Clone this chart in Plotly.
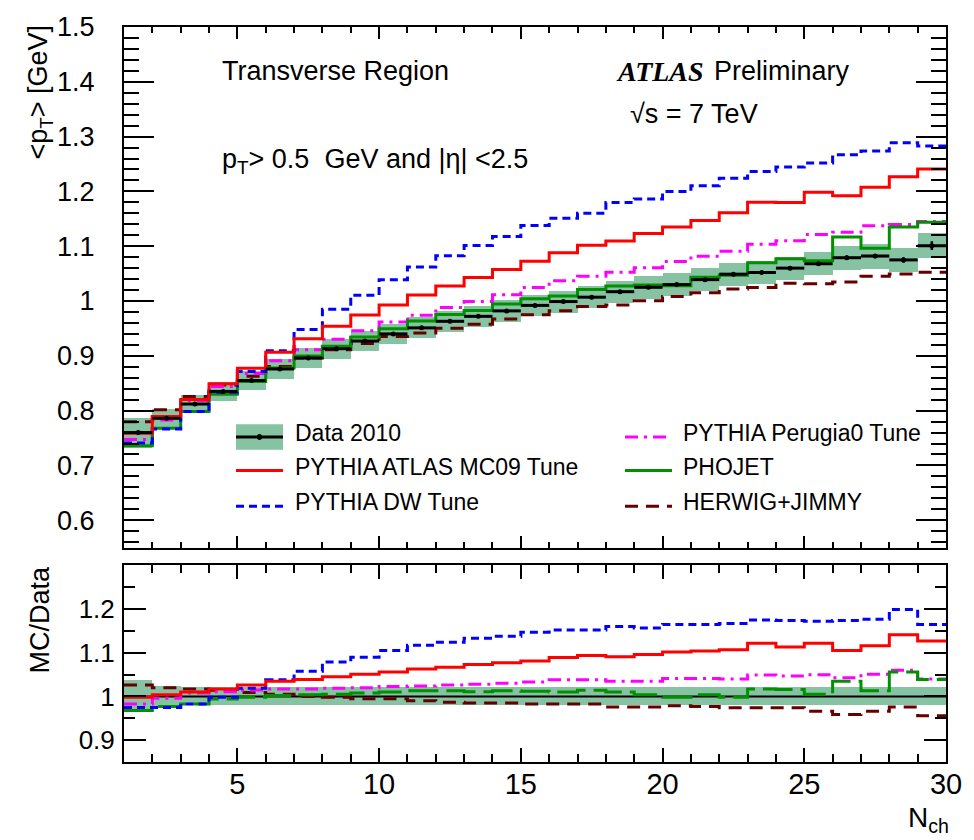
import plotly.graph_objects as go

# ---------------- data ----------------
edges = list(range(1, 31))          # N_ch bin edges 1..30 (29 bins)

data_2010 = [0.760, 0.786, 0.812, 0.835, 0.855, 0.876, 0.896, 0.913, 0.927, 0.940,
             0.951, 0.963, 0.972, 0.982, 0.992, 0.999, 1.007, 1.017, 1.025, 1.030,
             1.039, 1.049, 1.052, 1.060, 1.068, 1.079, 1.082, 1.075, 1.101]
data_stat = [0.001, 0.001, 0.001, 0.001, 0.001, 0.001, 0.001, 0.001, 0.001, 0.001,
             0.001, 0.0015, 0.0015, 0.0015, 0.0015, 0.002, 0.002, 0.002, 0.002, 0.0025,
             0.0025, 0.003, 0.003, 0.003, 0.0035, 0.004, 0.004, 0.005, 0.008]
band_rel = [0.036, 0.022, 0.020, 0.020, 0.020, 0.020, 0.020, 0.020, 0.020, 0.020,
            0.020, 0.020, 0.020, 0.020, 0.020, 0.020, 0.020, 0.020, 0.020, 0.020,
            0.020, 0.020, 0.020, 0.020, 0.020, 0.020, 0.021, 0.021, 0.021]

# MC / Data ratios
ratio_mc09 = [0.998, 1.004, 1.010, 1.017, 1.026, 1.035, 1.039, 1.045, 1.051, 1.056,
              1.063, 1.067, 1.073, 1.077, 1.081, 1.089, 1.094, 1.091, 1.096, 1.102,
              1.104, 1.107, 1.122, 1.113, 1.122, 1.105, 1.116, 1.141, 1.127]
ratio_dw = [0.975, 0.975, 0.983, 0.998, 1.019, 1.038, 1.058, 1.079, 1.090, 1.105,
            1.117, 1.124, 1.133, 1.138, 1.147, 1.152, 1.152, 1.160, 1.157, 1.165,
            1.165, 1.167, 1.175, 1.174, 1.172, 1.174, 1.177, 1.199, 1.165]
ratio_perugia0 = [0.983, 0.996, 1.008, 1.011, 1.015, 1.017, 1.017, 1.019, 1.020, 1.023,
                  1.024, 1.026, 1.028, 1.030, 1.033, 1.038, 1.038, 1.035, 1.035, 1.041,
                  1.041, 1.040, 1.049, 1.047, 1.050, 1.043, 1.051, 1.060, 1.040]
ratio_phojet = [0.968, 0.977, 0.983, 0.994, 0.998, 1.002, 1.004, 1.005, 1.008, 1.010,
                1.013, 1.013, 1.011, 1.013, 1.012, 1.010, 1.014, 1.010, 1.004, 0.998,
                1.004, 0.998, 1.017, 1.016, 1.005, 1.035, 1.013, 1.056, 1.039]
ratio_herwig = [1.026, 1.020, 1.017, 1.014, 1.009, 1.005, 1.000, 0.998, 0.995, 0.995,
                0.990, 0.987, 0.985, 0.985, 0.983, 0.983, 0.983, 0.976, 0.976, 0.979,
                0.977, 0.974, 0.974, 0.974, 0.966, 0.959, 0.966, 0.976, 0.956]

legend_col1 = ["Data 2010", "PYTHIA ATLAS MC09 Tune", "PYTHIA DW Tune"]
legend_col2 = ["PYTHIA Perugia0 Tune", "PHOJET", "HERWIG+JIMMY"]

# ---------------- styling ----------------
BAND = "#85C3A3"
C_MC09, C_DW, C_P0, C_PHO, C_HW = "#FF0000", "#0000FF", "#FF00FF", "#009000", "#660000"
D_DW, D_P0, D_HW, D_PHO_R = "8px,5px", "13px,6px,3px,6px", "13px,8px", "30px,8px"
SANS = "Liberation Sans, Arial, Helvetica, sans-serif"
NARROW = "Liberation Sans Narrow, Arial Narrow, Liberation Sans, sans-serif"

W, H = 974, 840
L, R, T, B = 124, 28, 18, 78
PW, PH = W - L - R, H - T - B


def px(x):
    return (x - L) / PW


def py(y):
    return (H - B - y) / PH


centers = [(edges[i] + edges[i + 1]) / 2 for i in range(len(data_2010))]
step_x = edges


def step_y(vals):
    return list(vals) + [vals[-1]]


fig = go.Figure()

# ---- top panel ----
band_abs = [d * e for d, e in zip(data_2010, band_rel)]
fig.add_trace(go.Bar(x=centers, y=[2 * b for b in band_abs],
                     base=[d - b for d, b in zip(data_2010, band_abs)],
                     width=1, marker=dict(color=BAND, line=dict(width=0)),
                     xaxis="x", yaxis="y", hoverinfo="skip"))

mc_defs = [
    (ratio_herwig, C_HW, D_HW, D_HW),
    (ratio_perugia0, C_P0, D_P0, D_P0),
    (ratio_phojet, C_PHO, "solid", D_PHO_R),
    (ratio_dw, C_DW, D_DW, D_DW),
    (ratio_mc09, C_MC09, "solid", "solid"),
]
for ratio, col, dtop, dbot in mc_defs:
    mc = [d * r for d, r in zip(data_2010, ratio)]
    fig.add_trace(go.Scatter(x=step_x, y=step_y(mc), mode="lines", line_shape="hv",
                             line=dict(color=col, width=3, dash=dtop),
                             xaxis="x", yaxis="y"))

fig.add_trace(go.Scatter(x=centers, y=data_2010, mode="markers",
                         marker=dict(size=5, color="black"),
                         error_x=dict(type="constant", value=0.5, thickness=3, width=0, color="black"),
                         error_y=dict(type="data", array=data_stat, thickness=2.5, width=0, color="black"),
                         xaxis="x", yaxis="y"))

# ---- ratio panel ----
fig.add_trace(go.Bar(x=centers, y=[2 * e for e in band_rel],
                     base=[1 - e for e in band_rel],
                     width=1, marker=dict(color=BAND, line=dict(width=0)),
                     xaxis="x2", yaxis="y2", hoverinfo="skip"))
fig.add_trace(go.Scatter(x=[edges[0], edges[-1]], y=[1, 1], mode="lines",
                         line=dict(color="black", width=2), xaxis="x2", yaxis="y2"))
for ratio, col, dtop, dbot in mc_defs:
    fig.add_trace(go.Scatter(x=step_x, y=step_y(ratio), mode="lines", line_shape="hv",
                             line=dict(color=col, width=3, dash=dbot),
                             xaxis="x2", yaxis="y2"))

axis_common = dict(showline=True, linewidth=2, linecolor="black", mirror="allticks",
                   ticks="inside", tickcolor="black", tickwidth=1.5,
                   showgrid=False, zeroline=False)

fig.update_layout(
    width=W, height=H,
    margin=dict(l=L, r=R, t=T, b=B, pad=0),
    paper_bgcolor="white", plot_bgcolor="white",
    showlegend=False, barmode="overlay", bargap=0,
    font=dict(family=SANS, color="black"),
    xaxis=dict(domain=[0, 1], range=[edges[0], edges[-1]], anchor="y",
               showticklabels=False, dtick=5, tick0=0, ticklen=12,
               minor=dict(ticks="inside", dtick=1, tick0=0, ticklen=6, tickcolor="black", tickwidth=1.5),
               **axis_common),
    yaxis=dict(domain=[py(545), 1], range=[0.55, 1.5], anchor="x",
               dtick=0.1, tick0=0, ticklen=30,
               tickfont=dict(family=SANS, size=27), ticklabelstandoff=22,
               minor=dict(ticks="inside", dtick=0.02, tick0=0, ticklen=15, tickcolor="black", tickwidth=1.5),
               **axis_common),
    xaxis2=dict(domain=[0, 1], range=[edges[0], edges[-1]], anchor="y2",
                dtick=5, tick0=0, ticklen=14,
                tickfont=dict(family=NARROW, size=29), ticklabelstandoff=-5,
                minor=dict(ticks="inside", dtick=1, tick0=0, ticklen=8, tickcolor="black", tickwidth=1.5),
                **axis_common),
    yaxis2=dict(domain=[0, py(563)], range=[0.85, 1.3], anchor="x2",
                tickvals=[0.9, 1.0, 1.1, 1.2], ticktext=["0.9", "1", "1.1", "1.2"],
                ticklen=22, tickfont=dict(family=NARROW, size=26), ticklabelstandoff=2,
                minor=dict(ticks="inside", dtick=0.05, tick0=0, ticklen=11, tickcolor="black", tickwidth=1.5),
                **axis_common),
)

ann = []


def text(x, y, s, size=27, xanchor="left", family=SANS, angle=0, yanchor="middle"):
    ann.append(dict(x=px(x), y=py(y), xref="paper", yref="paper", text=s, showarrow=False,
                    xanchor=xanchor, yanchor=yanchor, textangle=angle,
                    font=dict(family=family, size=size, color="black")))


text(220, 63, "Transverse Region")
text(706, 63, "<b><i>ATLAS</i></b>", size=28, xanchor="right",
     family="Liberation Serif, Times New Roman, serif")
text(712, 63, "Preliminary")
text(628, 106, "√s = 7 TeV")
text(220, 154, "p<sub>T</sub>> 0.5  GeV and |η| <2.5")
text(40, 14, "&lt;p<sub>T</sub>&gt; [GeV]", angle=-90, xanchor="center", yanchor="top")
text(40, 561, "MC/Data", size=27, angle=-90, xanchor="center", yanchor="top")
text(928, 820, "N<sub>ch</sub>", size=28, xanchor="center", family=NARROW)

# ---- manual legend ----
shapes = []
rows = [433, 467, 503]
for lbl, yy in zip(legend_col1, rows):
    text(293, yy - 4, lbl, size=23)
for lbl, yy in zip(legend_col2, rows):
    text(681, yy - 4, lbl, size=23)

x0, x1 = 236, 283
shapes.append(dict(type="rect", xref="paper", yref="paper", x0=px(x0), x1=px(x1),
                   y0=py(446), y1=py(420), fillcolor=BAND, line=dict(width=0)))
shapes.append(dict(type="line", xref="paper", yref="paper", x0=px(x0), x1=px(x1),
                   y0=py(433), y1=py(433), line=dict(color="black", width=3)))
shapes.append(dict(type="circle", xref="paper", yref="paper", x0=px(257), x1=px(262),
                   y0=py(436), y1=py(430), fillcolor="black", line=dict(width=0)))
shapes.append(dict(type="line", xref="paper", yref="paper", x0=px(x0), x1=px(x1),
                   y0=py(rows[1]), y1=py(rows[1]), line=dict(color=C_MC09, width=3)))
shapes.append(dict(type="line", xref="paper", yref="paper", x0=px(x0), x1=px(x1),
                   y0=py(rows[2]), y1=py(rows[2]), line=dict(color=C_DW, width=3, dash=D_DW)))
x0, x1 = 625, 672
shapes.append(dict(type="line", xref="paper", yref="paper", x0=px(x0), x1=px(x1),
                   y0=py(rows[0]), y1=py(rows[0]), line=dict(color=C_P0, width=3, dash=D_P0)))
shapes.append(dict(type="line", xref="paper", yref="paper", x0=px(x0), x1=px(x1),
                   y0=py(rows[1]), y1=py(rows[1]), line=dict(color=C_PHO, width=3)))
shapes.append(dict(type="line", xref="paper", yref="paper", x0=px(x0), x1=px(x1),
                   y0=py(rows[2]), y1=py(rows[2]), line=dict(color=C_HW, width=3, dash=D_HW)))

fig.update_layout(annotations=ann, shapes=shapes)
fig.write_html("out.html")
